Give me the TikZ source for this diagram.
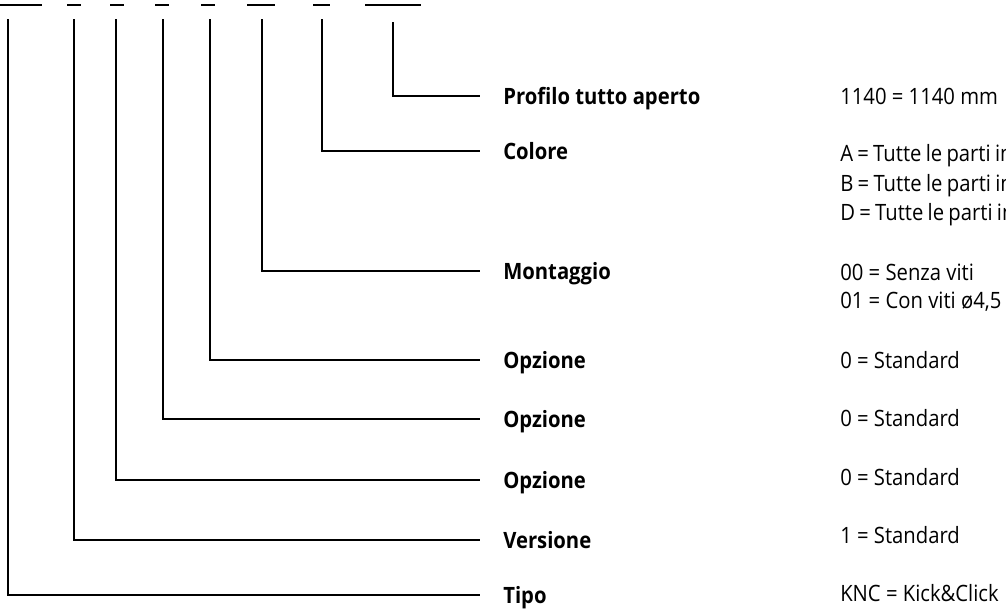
\documentclass[tikz,border=0pt]{standalone}
\usepackage{fontspec}
\setmainfont{Open Sans}[FakeStretch=0.9]
\usepackage{tikz}
\usetikzlibrary{positioning}

\begin{document}
\begin{tikzpicture}[x=0.025cm,y=-0.025cm,
    codeline/.style={line width=1.4pt,black},
    fieldlabel/.style={anchor=west,font=\fontsize{16}{19}\selectfont\bfseries,
      inner xsep=0.575cm,inner ysep=0pt,text height=11.4pt,text depth=0pt},
    fieldvalue/.style={anchor=west,font=\fontsize{16}{19}\selectfont,
      inner sep=0pt,text height=11.4pt,text depth=0pt},
    tightvalue/.style={fieldvalue,execute at begin node={\spaceskip=0.19em\relax}}]
  \useasboundingbox (0,0) rectangle (1006,612);
  \clip (0,0) rectangle (1006,612);
  % Code positions (bars on top)
  \foreach \l/\r in {0/42,67/81,110/124,155/169,201/215,247/275,313/330,365/421}
    \draw[codeline] (\l,5) -- (\r,5);
  % Drop points under each bar
  \coordinate (tipoTop) at (8,19);
  \coordinate (versioneTop) at (74,19);
  \coordinate (opzioneATop) at (116,19);
  \coordinate (opzioneBTop) at (163,19);
  \coordinate (opzioneCTop) at (210,19);
  \coordinate (montaggioTop) at (262,19);
  \coordinate (coloreTop) at (322,19);
  \coordinate (profiloTop) at (393,22);
  % Field names
  \node[fieldlabel] (profilo) at (480,96) {Profilo tutto aperto};
  \node[fieldlabel] (colore) at (480,151) {Colore};
  \node[fieldlabel] (montaggio) at (480,271) {Montaggio};
  \node[fieldlabel] (opzioneC) at (480,360) {Opzione};
  \node[fieldlabel] (opzioneB) at (480,419) {Opzione};
  \node[fieldlabel] (opzioneA) at (480,480) {Opzione};
  \node[fieldlabel] (versione) at (480,540) {Versione};
  \node[fieldlabel] (tipo) at (480,595) {Tipo};
  % Leader lines
  \foreach \f in {profilo,colore,montaggio,opzioneC,opzioneB,opzioneA,versione,tipo}
    \draw[codeline] (\f Top) |- (\f.west);
  % Values
  \node[fieldvalue] (profiloVal) at (840,96) {1140 = 1140 mm};
  \node[tightvalue] (coloreA) at (840,153) {A = Tutte le parti in};
  \node[tightvalue] (coloreB) at (840,183) {B = Tutte le parti in};
  \node[tightvalue] (coloreD) at (840,212) {D = Tutte le parti in};
  \node[fieldvalue] (montaggioA) at (840,272) {00 = Senza viti};
  \node[fieldvalue] (montaggioB) at (840,300) {01 = Con viti ø4,5};
  \node[fieldvalue] (opzioneCVal) at (840,360) {0 = Standard};
  \node[fieldvalue] (opzioneBVal) at (840,418) {0 = Standard};
  \node[fieldvalue] (opzioneAVal) at (840,477) {0 = Standard};
  \node[fieldvalue] (versioneVal) at (840,535) {1 = Standard};
  \node[fieldvalue] (tipoVal) at (840,593) {KNC = Kick\&Click};
\end{tikzpicture}
\end{document}
